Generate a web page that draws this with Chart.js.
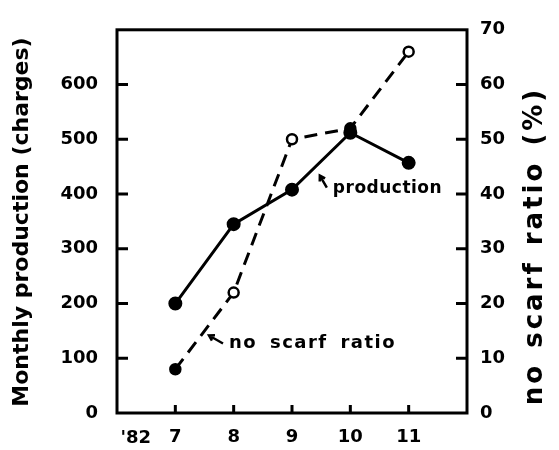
<!DOCTYPE html>
<html>
<head>
<meta charset="utf-8">
<script src="https://cdn.jsdelivr.net/npm/chart.js@4/dist/chart.umd.min.js"></script>
<style>
  html, body { margin: 0; padding: 0; background: #fff; }
  #wrap { width: 559px; height: 450px; }
</style>
</head>
<body>
<div id="wrap"><canvas id="chart"></canvas></div>
<script>
// data
var months = [7, 8, 9, 10, 11];
var production = [200, 345, 408, 512, 457];      // charges / month
var noScarfRatio = [8, 22, 50, 52, 66];          // %
var leftTicks = [0, 100, 200, 300, 400, 500, 600];
var rightTicks = [0, 10, 20, 30, 40, 50, 60, 70];
var yearLabel = "'82";

var FONT = 'DejaVu Sans';

function pts(vals) {
  return months.map(function (m, i) { return { x: m, y: vals[i] }; });
}

function arrow(c, x0, y0, x1, y1) {
  var ang = Math.atan2(y1 - y0, x1 - x0), h = 6;
  c.beginPath();
  c.moveTo(x0, y0); c.lineTo(x1, y1);
  c.moveTo(x1 + h * Math.cos(ang + 2.6), y1 + h * Math.sin(ang + 2.6));
  c.lineTo(x1, y1);
  c.lineTo(x1 + h * Math.cos(ang - 2.6), y1 + h * Math.sin(ang - 2.6));
  c.stroke();
}

// box, inward tick marks, titles and the hand notes
var decor = {
  id: 'decor',
  afterDraw: function (chart) {
    var c = chart.ctx, a = chart.chartArea;
    var sx = chart.scales.x, sy = chart.scales.y, sy1 = chart.scales.y1;
    c.save();
    c.strokeStyle = '#000';
    c.lineWidth = 3;
    c.strokeRect(a.left, a.top, a.right - a.left, a.bottom - a.top);

    c.beginPath();
    leftTicks.forEach(function (v) {
      if (v === 0) return;
      var y = sy.getPixelForValue(v);
      c.moveTo(a.left, y); c.lineTo(a.left + 11, y);
    });
    rightTicks.forEach(function (v) {
      if (v === 0 || v === 70) return;
      var y = sy1.getPixelForValue(v);
      c.moveTo(a.right, y); c.lineTo(a.right - 11, y);
    });
    months.forEach(function (m) {
      var x = sx.getPixelForValue(m);
      c.moveTo(x, a.bottom); c.lineTo(x, a.bottom - 8);
    });
    c.stroke();

    c.fillStyle = '#000';
    c.textAlign = 'center';
    c.textBaseline = 'middle';

    // axis titles, both read bottom to top
    c.font = 'bold 22px ' + FONT;
    c.save();
    c.translate(22, 222);
    c.rotate(-Math.PI / 2);
    c.fillText('Monthly production (charges)', 0, 0);
    c.restore();

    c.font = 'bold 26px ' + FONT;
    c.letterSpacing = '3px';
    c.wordSpacing = '3px';
    c.save();
    c.translate(535, 246);
    c.rotate(-Math.PI / 2);
    c.fillText('no scarf ratio (%)', 0, 0);
    c.restore();
    c.letterSpacing = '0px';
    c.wordSpacing = '0px';

    // year marker on the x axis
    c.font = 'bold 18px ' + FONT;
    c.fillText(yearLabel, sx.getPixelForValue(6.32), a.bottom + 25);

    // notes
    c.textAlign = 'left';
    c.lineWidth = 2.5;
    c.font = 'bold 17px ' + FONT;
    c.letterSpacing = '0.5px';
    var px = sx.getPixelForValue(9.7), py = sy.getPixelForValue(410);
    c.fillText('production', px, py);
    arrow(c, px - 6, py - 1, px - 13, py - 13);

    c.font = 'bold 18px ' + FONT;
    c.letterSpacing = '1.5px';
    c.wordSpacing = '5px';
    var nx = sx.getPixelForValue(7.92), ny = sy.getPixelForValue(127);
    c.fillText('no scarf ratio', nx, ny);
    arrow(c, nx - 6, ny, nx - 20, ny - 8);
    c.restore();
  }
};

new Chart(document.getElementById('chart'), {
  type: 'line',
  data: {
    datasets: [
      {
        label: 'production',
        data: pts(production),
        yAxisID: 'y',
        borderColor: '#000',
        borderWidth: 3,
        pointRadius: 5.5,
        pointBackgroundColor: '#000',
        pointBorderColor: '#000',
        tension: 0
      },
      {
        label: 'no scarf ratio',
        data: pts(noScarfRatio),
        yAxisID: 'y1',
        borderColor: '#000',
        borderWidth: 3,
        borderDash: [13, 8],
        pointRadius: 5,
        pointBorderWidth: 2.5,
        pointBackgroundColor: ['#000', '#fff', '#fff', '#000', '#fff'],
        pointBorderColor: '#000',
        tension: 0
      }
    ]
  },
  options: {
    responsive: true,
    maintainAspectRatio: false,
    animation: false,
    layout: { padding: { top: 20, left: 0, right: 0, bottom: 0 } },
    plugins: { legend: { display: false }, tooltip: { enabled: false } },
    scales: {
      x: {
        type: 'linear',
        min: 6, max: 12,
        grid: { display: false, drawTicks: false },
        border: { display: false },
        afterBuildTicks: function (s) { s.ticks = months.map(function (m) { return { value: m }; }); },
        afterFit: function (s) { s.height = 37; },
        ticks: {
          padding: 14,
          color: '#000',
          font: { family: FONT, size: 18, weight: 'bold' },
          maxRotation: 0,
          autoSkip: false
        }
      },
      y: {
        position: 'left',
        min: 0, max: 700,
        grid: { display: false, drawTicks: false },
        border: { display: false },
        afterBuildTicks: function (s) { s.ticks = leftTicks.map(function (v) { return { value: v }; }); },
        afterFit: function (s) { s.width = 117; },
        ticks: {
          padding: 19,
          color: '#000',
          font: { family: FONT, size: 18, weight: 'bold' }
        }
      },
      y1: {
        position: 'right',
        min: 0, max: 70,
        grid: { display: false, drawTicks: false },
        border: { display: false },
        afterBuildTicks: function (s) { s.ticks = rightTicks.map(function (v) { return { value: v }; }); },
        afterFit: function (s) { s.width = 92; },
        ticks: {
          padding: 13,
          color: '#000',
          font: { family: FONT, size: 18, weight: 'bold' }
        }
      }
    }
  },
  plugins: [decor]
});
</script>
</body>
</html>
